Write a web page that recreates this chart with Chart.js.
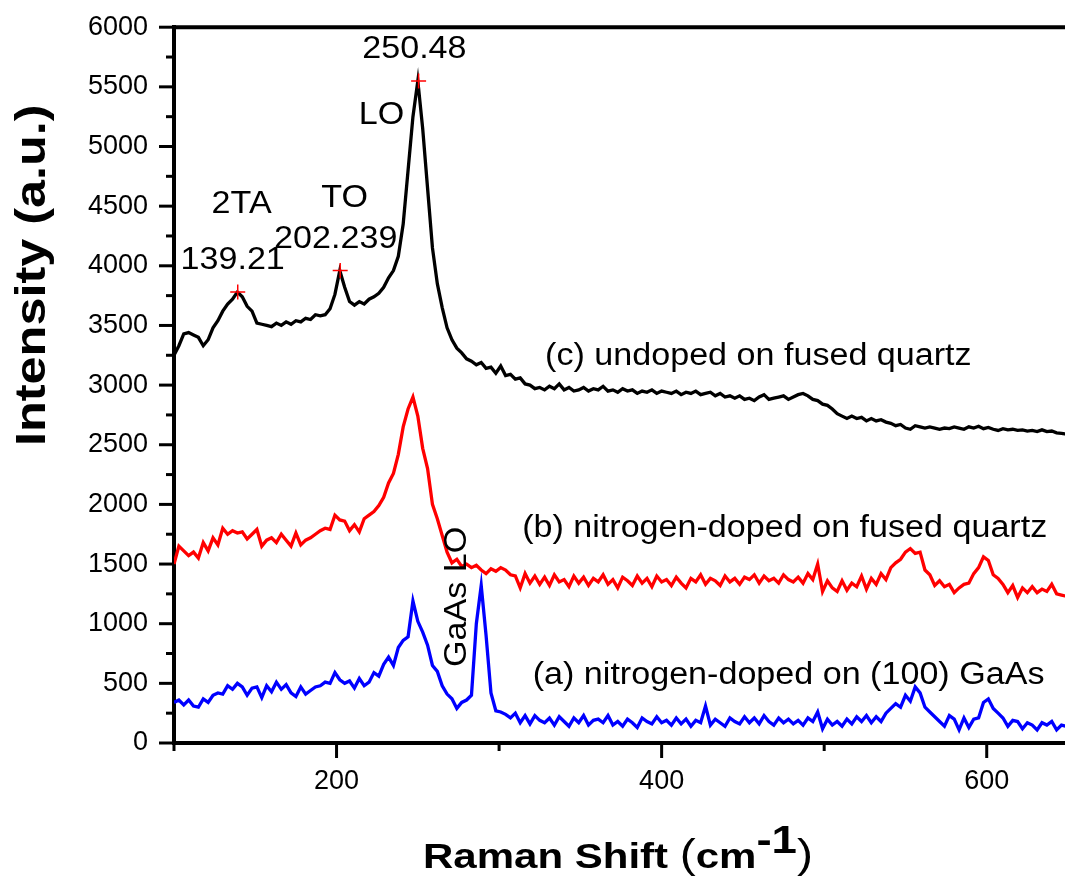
<!DOCTYPE html>
<html>
<head>
<meta charset="utf-8">
<title>Raman spectra</title>
<script src="https://cdn.jsdelivr.net/npm/chart.js@4.4.1/dist/chart.umd.min.js"></script>
<style>
  html, body { margin: 0; padding: 0; background: #fff; overflow: hidden; }
  canvas { display: block; }
</style>
</head>
<body>
<canvas id="raman" width="1080" height="879"></canvas>
<script>
// Spectra are sampled from 100 cm^-1 every 3 cm^-1 (184 samples each).
const SHIFT_START = 100;
const SHIFT_STEP = 3;

// (c) undoped film on fused quartz
const undopedQuartz = [
  3250,3330,3430,3440,3420,3400,3330,3380,3480,3540,
  3620,3680,3720,3780,3740,3660,3620,3520,3510,3500,
  3490,3520,3500,3530,3510,3540,3530,3560,3550,3590,
  3580,3590,3640,3760,3960,3820,3700,3670,3700,3680,
  3720,3740,3770,3820,3900,3960,4080,4350,4800,5250,
  5550,5150,4650,4150,3850,3650,3480,3380,3310,3270,
  3220,3200,3170,3190,3140,3150,3100,3160,3080,3090,
  3050,3060,3010,3000,2970,2980,2960,2990,2970,3010,
  2960,2980,2950,2960,2980,2950,2970,2960,2990,2950,
  2960,2940,2970,2950,2960,2930,2950,2940,2960,2930,
  2950,2940,2930,2950,2920,2940,2930,2950,2920,2930,
  2940,2910,2930,2900,2910,2890,2910,2880,2890,2870,
  2900,2920,2880,2890,2900,2910,2880,2900,2920,2930,
  2910,2880,2870,2840,2830,2800,2760,2740,2720,2740,
  2720,2730,2700,2720,2700,2710,2690,2680,2660,2670,
  2640,2630,2660,2650,2640,2650,2640,2630,2640,2635,
  2650,2640,2630,2650,2640,2655,2635,2645,2630,2620,
  2635,2625,2630,2620,2625,2615,2620,2610,2625,2610,
  2615,2600,2595,2590
];

// (b) nitrogen-doped film on fused quartz
const nDopedQuartz = [
  1500,1650,1610,1570,1600,1550,1680,1610,1720,1660,
  1800,1750,1780,1760,1770,1710,1750,1790,1650,1700,
  1720,1680,1750,1700,1650,1760,1660,1700,1720,1750,
  1780,1800,1790,1910,1870,1860,1780,1830,1770,1880,
  1910,1940,1990,2060,2180,2260,2420,2650,2800,2900,
  2740,2470,2300,2000,1880,1740,1600,1510,1540,1480,
  1500,1470,1490,1450,1420,1460,1440,1470,1450,1410,
  1400,1300,1420,1340,1400,1330,1390,1320,1410,1350,
  1370,1310,1400,1340,1390,1320,1380,1350,1410,1330,
  1370,1300,1390,1360,1320,1400,1340,1380,1310,1400,
  1350,1370,1320,1390,1340,1300,1380,1350,1410,1330,
  1380,1360,1320,1400,1350,1380,1330,1390,1370,1410,
  1340,1400,1360,1380,1340,1410,1370,1350,1390,1340,
  1420,1370,1500,1270,1360,1300,1270,1360,1280,1340,
  1310,1400,1290,1380,1330,1420,1370,1470,1510,1540,
  1600,1630,1590,1600,1450,1410,1320,1360,1310,1330,
  1260,1300,1330,1340,1420,1470,1560,1530,1410,1380,
  1330,1260,1320,1220,1300,1260,1310,1260,1290,1270,
  1330,1250,1240,1230
];

// (a) nitrogen-doped film on (100) GaAs
const nDopedGaAs = [
  340,360,320,360,310,300,370,340,400,420,
  410,480,450,500,470,400,460,470,380,480,
  430,510,450,490,420,390,470,410,440,470,
  480,510,500,590,530,500,520,460,540,480,
  510,590,560,660,720,650,800,860,890,1190,
  1020,930,820,650,600,480,410,370,290,340,
  360,400,1000,1320,900,420,270,260,240,210,
  250,170,230,160,230,190,170,210,150,220,
  180,140,210,170,230,150,190,200,170,230,
  150,180,140,200,170,130,210,180,160,220,
  170,190,150,210,160,200,140,190,170,310,
  150,200,170,140,210,180,160,220,170,210,
  160,230,180,150,210,170,200,160,190,150,
  210,180,260,120,200,150,180,140,200,160,
  220,180,230,170,220,180,250,290,330,300,
  400,350,470,420,300,260,220,180,140,230,
  200,110,210,130,200,210,340,370,290,250,
  210,140,190,180,120,170,150,110,170,150,
  180,110,150,140
];

// Fitted peak positions (cm^-1) and heights of the undoped film
const peakShift = [139.21, 202.239, 250.48];
const peakIntensity = [3780, 3960, 5550];
const peakNames = ['2TA', 'TO', 'LO'];

// Axis ranges and labelled ticks
const shiftRange = [100, 650];
const intensityRange = [0, 6000];
const shiftTickLabels = [200, 400, 600];
const intensityTickStep = 500;

const FONT = "'Liberation Sans', Arial, Helvetica, sans-serif";
const TEXT_STRETCH = 1.1;
const TITLE_STRETCH = 1.2;

function toPoints(values) {
  return values.map((v, i) => ({ x: SHIFT_START + i * SHIFT_STEP, y: v }));
}

// Text placement in data units: peak values, phonon names and sample captions
const captions = [
  { text: String(peakShift[2]), x: 247.9, y: 5817 },
  { text: peakNames[2], x: 227.7, y: 5258 },
  { text: peakNames[0], x: 141.6, y: 4517 },
  { text: String(peakShift[0]), x: 136.1, y: 4046 },
  { text: peakNames[1], x: 205.0, y: 4562 },
  { text: String(peakShift[1]), x: 199.5, y: 4217 },
  { text: 'GaAs LO', x: 274.2, y: 1225, rotate: -90 },
  { text: '(c) undoped on fused quartz', x: 459.5, y: 3242 },
  { text: '(b) nitrogen-doped on fused quartz', x: 475.7, y: 1796 },
  { text: '(a) nitrogen-doped on (100) GaAs', x: 478.1, y: 567 }
];

function drawStretched(ctx, text, x, y, font, stretch, rotate, align, baseline) {
  ctx.save();
  ctx.translate(x, y);
  if (rotate) ctx.rotate(rotate * Math.PI / 180);
  ctx.scale(stretch, 1);
  ctx.font = font;
  ctx.textAlign = align || 'center';
  ctx.textBaseline = baseline || 'middle';
  ctx.fillStyle = '#000';
  ctx.fillText(text, 0, 0);
  ctx.restore();
}

const frameAndLabels = {
  id: 'frameAndLabels',
  afterDraw(chart) {
    const { ctx, chartArea: a, scales: { x, y } } = chart;
    ctx.save();
    ctx.strokeStyle = '#000';
    ctx.lineCap = 'butt';

    // upper frame line
    ctx.lineWidth = 4;
    ctx.beginPath();
    ctx.moveTo(a.left, a.top);
    ctx.lineTo(a.right, a.top);
    ctx.stroke();

    // intensity ticks: long at every label, short in between
    ctx.lineWidth = 3;
    for (let v = intensityRange[0]; v <= intensityRange[1]; v += intensityTickStep / 2) {
      const py = y.getPixelForValue(v);
      const len = v % intensityTickStep === 0 ? 15 : 8;
      ctx.beginPath();
      ctx.moveTo(a.left - len, py);
      ctx.lineTo(a.left, py);
      ctx.stroke();
    }
    // Raman shift ticks
    for (let v = shiftRange[0]; v <= shiftRange[1]; v += 100) {
      const px = x.getPixelForValue(v);
      const len = shiftTickLabels.includes(v) ? 15 : 8;
      ctx.beginPath();
      ctx.moveTo(px, a.bottom);
      ctx.lineTo(px, a.bottom + len);
      ctx.stroke();
    }
    ctx.restore();

    // annotations
    captions.forEach(c => {
      drawStretched(ctx, c.text, x.getPixelForValue(c.x), y.getPixelForValue(c.y),
        '31px ' + FONT, TEXT_STRETCH, c.rotate || 0);
    });

    // y axis title
    drawStretched(ctx, 'Intensity (a.u.)', a.left - 141, a.top + 248,
      'bold 42px ' + FONT, TITLE_STRETCH, -90);

    // x axis title with superscript
    const parts = [
      { t: 'Raman Shift ', f: 'bold 35px ' + FONT, dy: 0 },
      { t: '(', f: '40px ' + FONT, dy: 0 },
      { t: 'cm', f: 'bold 35px ' + FONT, dy: 0 },
      { t: '-1', f: 'bold 38px ' + FONT, dy: -15 },
      { t: ')', f: '40px ' + FONT, dy: 0 }
    ];
    ctx.save();
    let total = 0;
    parts.forEach(p => { ctx.font = p.f; p.w = ctx.measureText(p.t).width * TITLE_STRETCH; total += p.w; });
    ctx.restore();
    let cx = (a.left + a.right) / 2 - 3 - total / 2;
    const base = a.bottom + 125;
    parts.forEach(p => {
      drawStretched(ctx, p.t, cx, base + p.dy, p.f, TITLE_STRETCH, 0, 'left', 'alphabetic');
      cx += p.w;
    });
  }
};

new Chart(document.getElementById('raman'), {
  type: 'line',
  data: {
    datasets: [
      {
        label: 'peaks',
        data: peakShift.map((s, i) => ({ x: s, y: peakIntensity[i] })),
        showLine: false,
        pointStyle: 'cross',
        pointRadius: 7.5,
        pointBorderWidth: 1.5,
        pointBorderColor: '#ff0000',
        pointBackgroundColor: '#ff0000',
        order: 0
      },
      {
        label: '(c) undoped on fused quartz',
        data: toPoints(undopedQuartz),
        borderColor: '#000000',
        borderWidth: 3.3,
        pointRadius: 0,
        tension: 0,
        order: 1
      },
      {
        label: '(b) nitrogen-doped on fused quartz',
        data: toPoints(nDopedQuartz),
        borderColor: '#ff0000',
        borderWidth: 3.3,
        pointRadius: 0,
        tension: 0,
        order: 2
      },
      {
        label: '(a) nitrogen-doped on (100) GaAs',
        data: toPoints(nDopedGaAs),
        borderColor: '#0000ff',
        borderWidth: 3.3,
        pointRadius: 0,
        tension: 0,
        order: 3
      }
    ]
  },
  options: {
    responsive: false,
    animation: false,
    events: [],
    layout: { padding: { left: 0, top: 23, right: 12, bottom: 0 } },
    plugins: { legend: { display: false }, tooltip: { enabled: false } },
    scales: {
      x: {
        type: 'linear',
        min: shiftRange[0],
        max: shiftRange[1],
        border: { display: true, color: '#000', width: 4 },
        grid: { drawOnChartArea: false, drawTicks: true, tickLength: 15, tickColor: 'rgba(0,0,0,0)' },
        ticks: {
          stepSize: 100,
          maxRotation: 0,
          autoSkip: false,
          padding: 7,
          color: '#000',
          font: { family: FONT, size: 27 },
          callback: v => shiftTickLabels.includes(v) ? String(v) : ''
        },
        afterFit(scale) { scale.height = 136; }
      },
      y: {
        min: intensityRange[0],
        max: intensityRange[1],
        border: { display: true, color: '#000', width: 4 },
        grid: { drawOnChartArea: false, drawTicks: true, tickLength: 15, tickColor: 'rgba(0,0,0,0)' },
        ticks: {
          stepSize: intensityTickStep,
          padding: 11,
          color: '#000',
          font: { family: FONT, size: 27 },
          callback: v => String(v)
        },
        afterFit(scale) { scale.width = 174; }
      }
    }
  },
  plugins: [frameAndLabels]
});
</script>
</body>
</html>
